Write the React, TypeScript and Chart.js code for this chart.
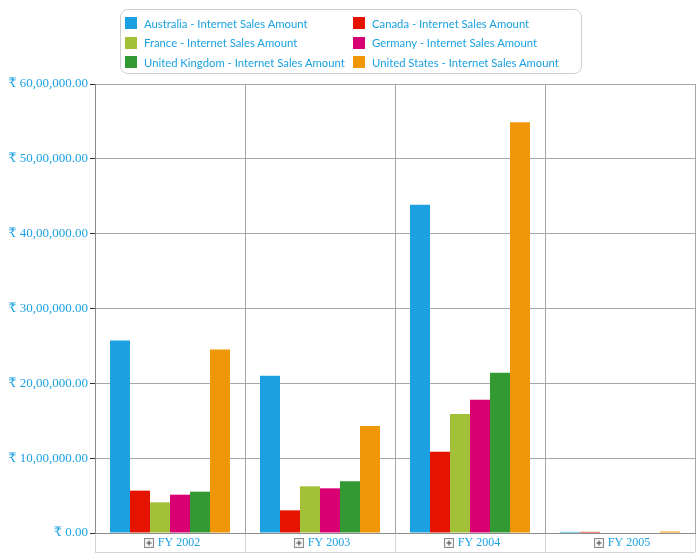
import React, { useEffect, useRef } from "react";
import { Chart, registerables } from "chart.js";

Chart.register(...registerables);

const categories = ["FY 2002", "FY 2003", "FY 2004", "FY 2005"];
const seriesNames = [
  "Australia - Internet Sales Amount",
  "Canada - Internet Sales Amount",
  "France - Internet Sales Amount",
  "Germany - Internet Sales Amount",
  "United Kingdom - Internet Sales Amount",
  "United States - Internet Sales Amount",
];
const seriesColors = ["#1ba1e2", "#e51400", "#a2c139", "#d80073", "#339933", "#f09609"];
const australia = [2571000, 2103000, 4385000, 15000];
const canada = [566000, 303000, 1087000, 15000];
const france = [410000, 624000, 1591000, 0];
const germany = [512000, 597000, 1782000, 0];
const unitedKingdom = [552000, 691000, 2143000, 0];
const unitedStates = [2451000, 1430000, 5490000, 20000];
const seriesValues = [australia, canada, france, germany, unitedKingdom, unitedStates];
const yMax = 6000000;
const yStep = 1000000;

const TEXT_BLUE = "#1ba1e2";
const SERIF = "'Liberation Serif', 'DejaVu Serif', serif";

function indianFormat(v: number): string {
  const n = Math.round(v);
  const s = String(n);
  let out: string;
  if (s.length <= 3) out = s;
  else {
    const last3 = s.slice(-3);
    let rest = s.slice(0, -3);
    const parts: string[] = [];
    while (rest.length > 2) {
      parts.unshift(rest.slice(-2));
      rest = rest.slice(0, -2);
    }
    if (rest.length) parts.unshift(rest);
    out = parts.join(",") + "," + last3;
  }
  return "\u20B9 " + out + ".00";
}

const axisBoxPlugin = {
  id: "axisBox",
  afterDraw(chart: any) {
    const ctx = chart.ctx;
    const x = chart.scales.x;
    const area = chart.chartArea;
    const bottom = area.bottom + 19;
    ctx.save();
    ctx.strokeStyle = "#d4d4d4";
    ctx.lineWidth = 1;
    const n = categories.length;
    const w = (area.right - area.left) / n;
    ctx.beginPath();
    for (let i = 0; i <= n; i++) {
      const px = Math.round(area.left + i * w) + 0.5;
      ctx.moveTo(px, area.bottom + 1);
      ctx.lineTo(px, bottom);
    }
    ctx.moveTo(area.left, bottom + 0.5);
    ctx.lineTo(area.right, bottom + 0.5);
    ctx.stroke();
    // plus icons
    ctx.font = "12px " + SERIF;
    for (let i = 0; i < n; i++) {
      const center = x.getPixelForTick(i) + 9;
      const tw = ctx.measureText(categories[i]).width;
      const ix = Math.round(center - tw / 2 - 14) + 0.5;
      const iy = area.bottom + 5.5;
      ctx.fillStyle = "#f2f2f2";
      ctx.fillRect(ix, iy, 9, 9);
      ctx.strokeStyle = "#8a8a8a";
      ctx.strokeRect(ix, iy, 9, 9);
      ctx.strokeStyle = "#444";
      ctx.beginPath();
      ctx.moveTo(ix + 2, iy + 4.5);
      ctx.lineTo(ix + 7, iy + 4.5);
      ctx.moveTo(ix + 4.5, iy + 2);
      ctx.lineTo(ix + 4.5, iy + 7);
      ctx.stroke();
    }
    ctx.restore();
  },
};

function Legend() {
  return (
    <div
      style={{
        position: "absolute",
        left: 120,
        top: 9,
        width: 460,
        height: 63,
        border: "1px solid #cfcfcf",
        borderRadius: 8,
        boxSizing: "content-box",
        fontFamily: "Lato, 'Open Sans', sans-serif",
        fontSize: 11.3,
        color: TEXT_BLUE,
      }}
    >
      {seriesNames.map((name, i) => {
        const col = i % 2;
        const row = Math.floor(i / 2);
        return (
          <div
            key={name}
            style={{
              position: "absolute",
              left: col === 0 ? 4 : 232,
              top: 4 + row * 19.5,
              display: "flex",
              alignItems: "center",
              whiteSpace: "nowrap",
              height: 18,
            }}
          >
            <span
              style={{
                display: "inline-block",
                width: 12,
                height: 12,
                background: seriesColors[i],
                marginRight: 7,
              }}
            />
            <span>{name}</span>
          </div>
        );
      })}
    </div>
  );
}

export default function App() {
  const ref = useRef<HTMLCanvasElement | null>(null);
  useEffect(() => {
    document.body.style.margin = "0";
    if (!ref.current) return;
    const chart = new Chart(ref.current, {
      type: "bar",
      data: {
        labels: categories,
        datasets: seriesNames.map((name, i) => ({
          label: name,
          data: seriesValues[i],
          backgroundColor: seriesColors[i],
          borderWidth: 0,
          categoryPercentage: 0.8,
          barPercentage: 1.0,
        })),
      },
      options: {
        animation: false,
        responsive: false,
        maintainAspectRatio: false,
        layout: { padding: { top: 84, right: 5, left: 0, bottom: 0 } },
        plugins: {
          legend: { display: false },
          tooltip: { enabled: false },
        },
        scales: {
          x: {
            offset: true,
            grid: {
              offset: true,
              color: "#a6a6a6",
              drawTicks: false,
              tickLength: 0,
            },
            border: { color: "#8c8c8c" },
            ticks: {
              color: TEXT_BLUE,
              font: { family: SERIF, size: 12 },
              padding: 3,
              labelOffset: 9,
              maxRotation: 0,
            },
            afterFit(scale: any) {
              scale.height = 25;
            },
          },
          y: {
            min: 0,
            max: yMax,
            grid: {
              color: "#a6a6a6",
              tickColor: "#333",
              tickLength: 5,
            },
            border: { color: "#8c8c8c" },
            ticks: {
              stepSize: yStep,
              color: TEXT_BLUE,
              font: { family: SERIF, size: 13 },
              padding: 2,
              callback: (v: any) => indianFormat(Number(v)),
            },
            afterFit(scale: any) {
              scale.width = 95;
            },
          },
        },
      },
      plugins: [axisBoxPlugin],
    });
    return () => chart.destroy();
  }, []);
  return (
    <div style={{ position: "relative", width: 700, height: 558 }}>
      <canvas ref={ref} width={700} height={558} style={{ display: "block" }} />
      <Legend />
    </div>
  );
}
